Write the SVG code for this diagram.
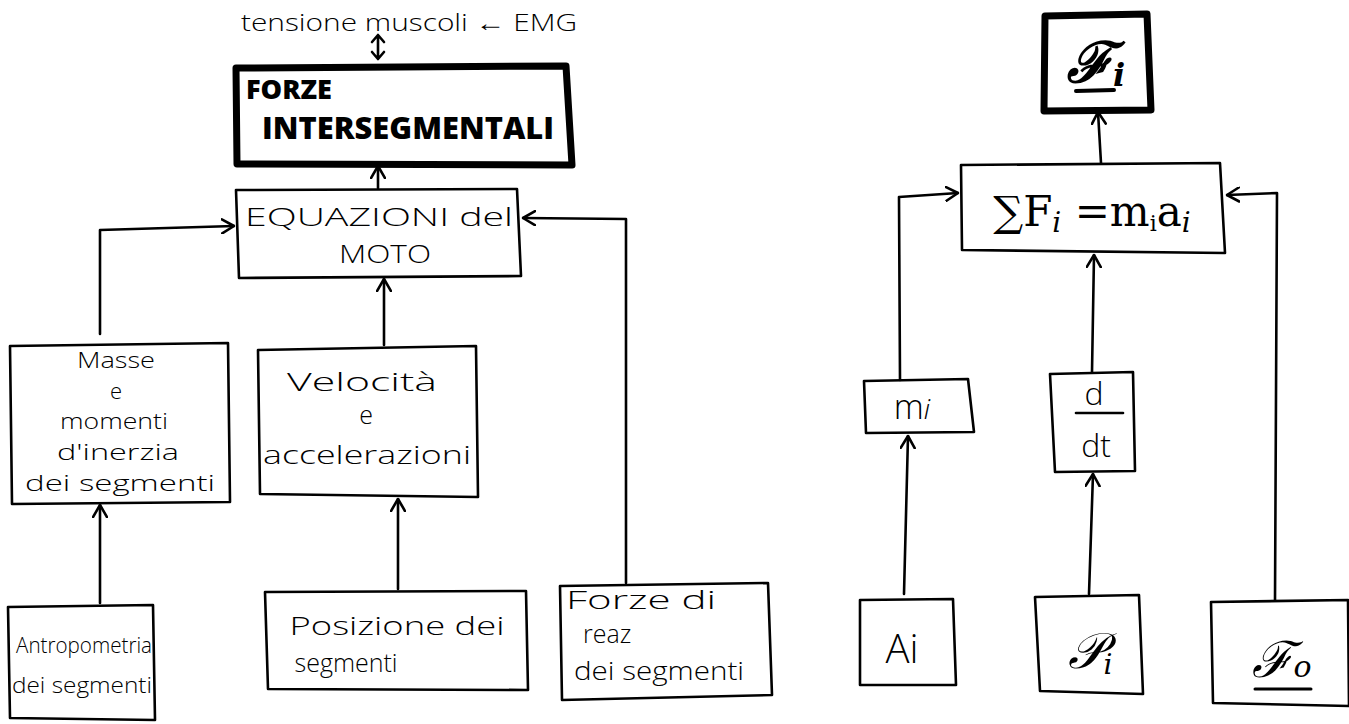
<svg xmlns="http://www.w3.org/2000/svg" width="1349" height="724" viewBox="0 0 1349 724">
  <style>
    .box { fill: none; stroke: #000; stroke-width: 2.6; stroke-linejoin: round; }
    .thick { fill: none; stroke: #000; stroke-width: 7; stroke-linejoin: round; }
    .wire { fill: none; stroke: #000; stroke-width: 2.6; stroke-linecap: round; stroke-linejoin: round; }
    .t { font-family: "Open Sans", "Liberation Sans", sans-serif; font-size: 25px; fill: #000; text-anchor: middle; font-weight: 300; }
    .s { font-size: 22px; }
    .big { font-family: "Open Sans", "Liberation Sans", sans-serif; font-weight: 800; font-size: 30px; fill: #000; }
    .math { font-family: "DejaVu Serif", "Liberation Serif", serif; fill: #000; text-anchor: middle; }
  </style>
  <defs>
    <marker id="head" viewBox="0 0 14 16" refX="13" refY="8" markerWidth="14" markerHeight="16" markerUnits="userSpaceOnUse" orient="auto">
      <path d="M1,1 L13,8 L1,15" fill="none" stroke="#000" stroke-width="2.6" stroke-linecap="round" stroke-linejoin="round"/>
    </marker>
  </defs>
  <rect width="1349" height="724" fill="#fff"/>

  <!-- left diagram: equations of motion -->
  <g id="emg">
    <text class="t" x="409" y="31" style="font-size:24px" textLength="336" lengthAdjust="spacingAndGlyphs">tensione muscoli ← EMG</text>
    <path class="wire" d="M378,36 L378,58 M372,42 L378,35 L384,42 M372,52 L378,59 L384,52"/>
  </g>

  <g id="forze-intersegmentali">
    <path class="thick" d="M236,68 L566,66 L572,165 L237,164 Z"/>
    <text class="big" x="246" y="99" style="font-size:27px" textLength="86" lengthAdjust="spacingAndGlyphs">FORZE</text>
    <text class="big" x="262" y="139" textLength="292" lengthAdjust="spacingAndGlyphs">INTERSEGMENTALI</text>
  </g>

  <g id="equazioni">
    <path class="box" d="M236,190 L517,189 L521,276 L239,278 Z"/>
    <text class="t" x="379" y="226" textLength="268" lengthAdjust="spacingAndGlyphs">EQUAZIONI del</text>
    <text class="t" x="385" y="263" textLength="92" lengthAdjust="spacingAndGlyphs">MOTO</text>
  </g>

  <g id="masse">
    <path class="box" d="M10,346 L228,343 L230,502 L12,504 Z"/>
    <text class="t s" x="116" y="368" textLength="78" lengthAdjust="spacingAndGlyphs">Masse</text>
    <text class="t s" x="116" y="399">e</text>
    <text class="t s" x="114" y="429" textLength="108" lengthAdjust="spacingAndGlyphs">momenti</text>
    <text class="t s" x="118" y="460" textLength="122" lengthAdjust="spacingAndGlyphs">d'inerzia</text>
    <text class="t s" x="120" y="491" textLength="190" lengthAdjust="spacingAndGlyphs">dei segmenti</text>
  </g>

  <g id="velocita">
    <path class="box" d="M258,350 L476,346 L478,497 L260,494 Z"/>
    <text class="t" x="362" y="391" textLength="150" lengthAdjust="spacingAndGlyphs">Velocità</text>
    <text class="t" x="366" y="424">e</text>
    <text class="t" x="367" y="464" textLength="208" lengthAdjust="spacingAndGlyphs">accelerazioni</text>
  </g>

  <g id="antropometria">
    <path class="box" d="M8,607 L153,605 L155,720 L10,718 Z"/>
    <text class="t s" x="84" y="653" textLength="136" lengthAdjust="spacingAndGlyphs">Antropometria</text>
    <text class="t s" x="82" y="693" textLength="140" lengthAdjust="spacingAndGlyphs">dei segmenti</text>
  </g>

  <g id="posizione">
    <path class="box" d="M265,592 L526,591 L528,690 L268,689 Z"/>
    <text class="t" x="397" y="635" textLength="215" lengthAdjust="spacingAndGlyphs">Posizione dei</text>
    <text class="t" x="346" y="672">segmenti</text>
  </g>

  <g id="forze-reazione">
    <path class="box" d="M560,586 L768,583 L772,695 L562,700 Z"/>
    <text class="t" x="566" y="609" style="text-anchor:start" textLength="150" lengthAdjust="spacingAndGlyphs">Forze di</text>
    <text class="t" x="583" y="643" style="text-anchor:start">reaz</text>
    <text class="t" x="659" y="680" textLength="170" lengthAdjust="spacingAndGlyphs">dei segmenti</text>
  </g>

  <!-- right diagram: Newton's law per segment -->
  <g id="fi">
    <path class="thick" d="M1045,16 L1147,14 L1151,110 L1044,111 Z"/>
    <text class="math" x="1096" y="82" style="font-size:56px;font-style:italic;font-weight:bold">ℱ<tspan font-size="32" dy="4">i</tspan></text>
    <path class="wire" d="M1076,91 L1114,90" style="stroke-width:4"/>
  </g>

  <g id="newton">
    <path class="box" d="M961,165 L1220,163 L1225,253 L962,250 Z"/>
    <text class="math" x="1092" y="226" style="font-size:42px">∑F<tspan font-size="28" dy="6" font-style="italic">i</tspan><tspan dy="-6"> =m</tspan><tspan font-size="22" dy="5">i</tspan><tspan dy="-5">a</tspan><tspan font-size="28" dy="6" font-style="italic">i</tspan></text>
  </g>

  <g id="mi">
    <path class="box" d="M864,381 L968,379 L974,432 L866,433 Z"/>
    <text class="t" x="912" y="419" style="font-size:34px">m<tspan font-size="28" font-style="italic">i</tspan></text>
  </g>

  <g id="ddt">
    <path class="box" d="M1050,374 L1133,372 L1135,471 L1055,472 Z"/>
    <text class="t" x="1094" y="405" style="font-size:32px">d</text>
    <path class="wire" d="M1076,413 L1123,413"/>
    <text class="t" x="1096" y="457" style="font-size:32px">dt</text>
  </g>

  <g id="ai">
    <path class="box" d="M860,600 L953,599 L956,685 L860,685 Z"/>
    <text class="t" x="902" y="663" style="font-size:40px">Ai</text>
  </g>

  <g id="pi">
    <path class="box" d="M1035,597 L1139,595 L1143,694 L1040,691 Z"/>
    <text class="math" x="1090" y="668" style="font-size:50px;font-style:italic">𝒫<tspan font-size="28" dy="6">i</tspan></text>
  </g>

  <g id="fo">
    <path class="box" d="M1211,602 L1348,600 L1349,706 L1213,703 Z"/>
    <text class="math" x="1282" y="677" style="font-size:50px;font-style:italic">ℱ<tspan font-size="30">o</tspan></text>
    <path class="wire" d="M1255,689 L1311,689" style="stroke-width:3"/>
  </g>

  <!-- connectors -->
  <g id="connectors">
    <path class="wire" d="M378,188 L378,166" marker-end="url(#head)"/>
    <path class="wire" d="M100,334 L100,230 L234,226" marker-end="url(#head)"/>
    <path class="wire" d="M384,345 L384,279" marker-end="url(#head)"/>
    <path class="wire" d="M626,583 L626,219 L523,218" marker-end="url(#head)"/>
    <path class="wire" d="M100,603 L100,505" marker-end="url(#head)"/>
    <path class="wire" d="M398,589 L398,499" marker-end="url(#head)"/>

    <path class="wire" d="M1101,163 L1098,112" marker-end="url(#head)"/>
    <path class="wire" d="M900,380 L899,197 L958,193" marker-end="url(#head)"/>
    <path class="wire" d="M1275,600 L1277,193 L1227,195" marker-end="url(#head)"/>
    <path class="wire" d="M1092,372 L1094,255" marker-end="url(#head)"/>
    <path class="wire" d="M904,594 L908,436" marker-end="url(#head)"/>
    <path class="wire" d="M1089,594 L1093,474" marker-end="url(#head)"/>
  </g>
</svg>
